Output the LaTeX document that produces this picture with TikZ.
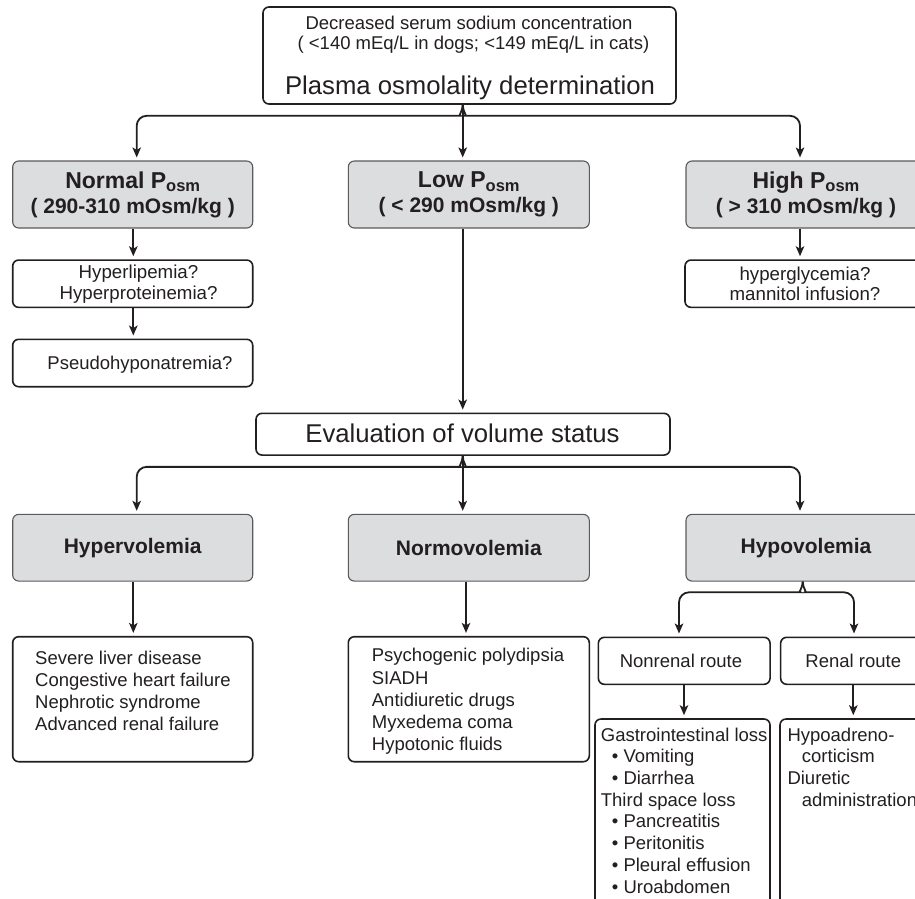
\documentclass[tikz,border=0pt]{standalone}
\usepackage{fontspec}
\setmainfont{Liberation Sans}
\usetikzlibrary{arrows.meta,calc}
\definecolor{ink}{HTML}{231F20}
\definecolor{gfill}{HTML}{DCDDDF}
\definecolor{gline}{HTML}{5A5A5C}
\newcommand{\posm}{P\raisebox{-3.5pt}{\fontsize{16.5}{16.5}\selectfont osm}}
\begin{document}
\begin{tikzpicture}[x=1pt,y=-1pt,
  wbox/.style={draw=ink,line width=1.6pt,rounded corners=6pt,fill=white,inner sep=0pt},
  gbox/.style={draw=gline,line width=1.1pt,rounded corners=6pt,fill=gfill,inner sep=0pt,
    font=\fontsize{21}{25}\selectfont\bfseries,align=center,text=ink},
  lbl/.style={inner sep=0pt,text=ink,font=\fontsize{18.5}{20}\selectfont,text height=13.3pt,text depth=0pt},
  lbltwo/.style={inner sep=0pt,text=ink,font=\fontsize{18.7}{20.5}\selectfont,align=center},
  lst/.style={inner sep=0pt,text=ink,font=\fontsize{18.5}{22.2}\selectfont,align=left,anchor=north west},
  lstb/.style={inner sep=0pt,text=ink,font=\fontsize{18.5}{21.7}\selectfont,align=left,anchor=north west},
  big/.style={inner sep=0pt,text=ink,font=\fontsize{25.7}{28}\selectfont,text height=18.4pt,text depth=0pt},
  arr/.style={draw=ink,line width=1.8pt,-{Stealth[length=10pt,width=8.5pt,inset=2.5pt]},shorten >=3pt},
]
\useasboundingbox (0,0) rectangle (915,898);
\clip (0,0) rectangle (915,898);

% ---------- top box ----------
\node[wbox,minimum width=413,minimum height=97] (top) at (469.5,55.5) {};
\node[lbl] (t1) at (469,23) {Decreased serum sodium concentration};
\node[lbl] (t2) at (473.5,43) {( <140 mEq/L in dogs; <149 mEq/L in cats)};
\node[big] (t3) at (470,85) {Plasma osmolality determination};

% ---------- level 2 ----------
\node[gbox,minimum width=240,minimum height=67] (normal) at (132.7,194.5)
  {{\fontsize{23}{25}\selectfont Normal \posm}\\( 290-310 mOsm/kg )};
\node[gbox,minimum width=241,minimum height=67] (low) at (468.8,194.5)
  {{\fontsize{23}{25}\selectfont Low \posm}\\( < 290 mOsm/kg )};
\node[gbox,minimum width=240,minimum height=67] (high) at (806,194.5)
  {{\fontsize{23}{25}\selectfont High \posm}\\( > 310 mOsm/kg )};

\node[wbox,minimum width=240,minimum height=47.3] (hyp1) at (132.7,283.7) {};
\node[lbltwo] (hyp1t) at (138.5,284) {Hyperlipemia?\\Hyperproteinemia?};
\node[wbox,minimum width=240,minimum height=47.4] (pseudo) at (132.7,363) {};
\node[lbl] (pseudot) at (140,363.3) {Pseudohyponatremia?};
\node[wbox,minimum width=240,minimum height=47.3] (hg) at (805,283.7) {};
\node[lbltwo] (hgt) at (805,284) {hyperglycemia?\\mannitol infusion?};

% ---------- evaluation ----------
\node[wbox,minimum width=414,minimum height=41.7] (eval) at (463,434.2) {};
\node[big] (evalt) at (462.5,433.3) {Evaluation of volume status};

% ---------- volume status ----------
\node[gbox,minimum width=240,minimum height=66.7] (hypervol) at (132.7,547.7) {Hypervolemia};
\node[gbox,minimum width=241,minimum height=66.7] (normovol) at (468.8,547.7) {Normovolemia};
\node[gbox,minimum width=240,minimum height=66.7] (hypovol) at (806,547.7) {Hypovolemia};

\node[wbox,minimum width=240,minimum height=125] (hyperlist) at (132.7,699.2) {};
\node[lst] (hyperlistt) at (35,650.5) {Severe liver disease\\Congestive heart failure\\Nephrotic syndrome\\Advanced renal failure};
\node[wbox,minimum width=241,minimum height=125] (normolist) at (468.8,699.2) {};
\node[lst] (normolistt) at (371.7,648.3) {Psychogenic polydipsia\\SIADH\\Antidiuretic drugs\\Myxedema coma\\Hypotonic fluids};

\node[wbox,minimum width=171.7,minimum height=47] (nonrenal) at (684.2,660.8) {};
\node[lbl] (nonrenalt) at (681,660.7) {Nonrenal route};
\node[wbox,minimum width=171.7,minimum height=47] (renal) at (866.5,660.8) {};
\node[lbl] (renalt) at (853.3,660.7) {Renal route};

\node[wbox,minimum width=175,minimum height=189] (gastro) at (682.5,813.5) {};
\node[lstb] (gastrot) at (600.7,727.5) {Gastrointestinal loss\\
\hspace*{11pt}\textbullet\ Vomiting\\
\hspace*{11pt}\textbullet\ Diarrhea\\
Third space loss\\
\hspace*{11pt}\textbullet\ Pancreatitis\\
\hspace*{11pt}\textbullet\ Peritonitis\\
\hspace*{11pt}\textbullet\ Pleural effusion\\
\hspace*{11pt}\textbullet\ Uroabdomen};
\node[wbox,minimum width=175,minimum height=189] (renallist) at (867.5,813.5) {};
\node[lstb] (renallistt) at (787.3,727.5) {Hypoadreno-\\
\hspace*{14.4pt}corticism\\
Diuretic\\
\hspace*{14.4pt}administration};

% ---------- connectors ----------
\coordinate (tj) at ([xshift=-6.8pt]top.south);
\draw[arr] (tj) -- (tj |- low.north);
\draw[arr,rounded corners=10pt] (tj) .. controls +(0,7) and +(7,0) .. ++(-12,11) -| ([xshift=4pt]normal.north);
\draw[arr,rounded corners=10pt] (tj) .. controls +(0,7) and +(-7,0) .. ++(12,11) -| ([xshift=-6pt]high.north);

\coordinate (na) at ([xshift=0.6pt]normal.south);
\draw[arr] (na) -- (na |- hyp1.north);
\coordinate (nb) at ([xshift=0.6pt]hyp1.south);
\draw[arr] (nb) -- (nb |- pseudo.north);
\coordinate (ha) at ([xshift=-6pt]high.south);
\draw[arr] (ha) -- (ha |- hg.north);
\coordinate (la) at ([xshift=-6.1pt]low.south);
\draw[arr] (la) -- (la |- eval.north);

\coordinate (ej) at ([xshift=-0.3pt]eval.south);
\draw[arr] (ej) -- (ej |- normovol.north);
\draw[arr,rounded corners=10pt] (ej) .. controls +(0,7) and +(7,0) .. ++(-12,11) -| ([xshift=4pt]hypervol.north);
\draw[arr,rounded corners=10pt] (ej) .. controls +(0,7) and +(-7,0) .. ++(12,11) -| ([xshift=-6pt]hypovol.north);

\coordinate (va) at ([xshift=0.6pt]hypervol.south);
\draw[arr] (va) -- (va |- hyperlist.north);
\coordinate (vb) at ([xshift=-2.8pt]normovol.south);
\draw[arr] (vb) -- (vb |- normolist.north);

\coordinate (hj) at ([xshift=-3.3pt]hypovol.south);
\draw[arr,rounded corners=10pt] (hj) .. controls +(0,7) and +(7,0) .. ++(-12,10.7) -| ([xshift=-5.2pt]nonrenal.north);
\draw[arr,rounded corners=10pt] (hj) .. controls +(0,7) and +(-7,0) .. ++(12,10.7) -| ([xshift=-12.5pt]renal.north);

\coordinate (ra) at ([xshift=-0.2pt]nonrenal.south);
\draw[arr] (ra) -- (ra |- gastro.north);
\coordinate (rb) at ([xshift=-13.2pt]renal.south);
\draw[arr] (rb) -- (rb |- renallist.north);
\end{tikzpicture}
\end{document}
